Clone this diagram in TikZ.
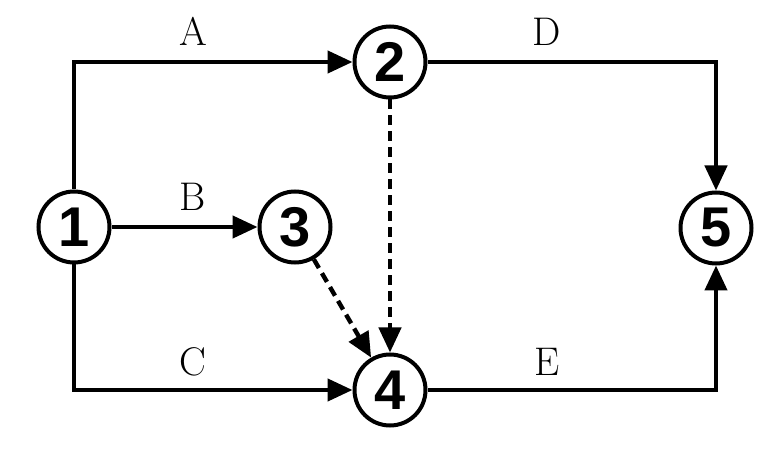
\documentclass[tikz,border=0pt]{standalone}
\usepackage{fontspec}
\newfontfamily\eventfont{Liberation Sans}
\usetikzlibrary{arrows.meta,positioning}

\tikzset{
  event/.style={circle,draw,line width=2pt,minimum size=35.5pt,inner sep=0pt,
    font=\eventfont\bfseries\fontsize{28}{28}\selectfont},
  task/.style={font=\fontsize{20}{20}\selectfont,inner sep=0pt},
  dummy/.style={dash pattern=on 5pt off 3pt}
}

\begin{document}
\begin{tikzpicture}[x=0.5pt,y=-0.5pt,line width=2.2pt,>={Triangle[length=12.5pt,width=11pt]}]
  \useasboundingbox (0,0) rectangle (782,454);
  % events
  \node[event] (e1) at (74,227) {1};
  \node[event] (e2) at (390,62) {2};
  \node[event] (e3) at (295,227) {3};
  \node[event] (e4) at (390,390) {4};
  \node[event] (e5) at (716,228) {5};
  % activities
  \draw[->] (e1) |- (e2);
  \draw[->] (e1) -- (e3);
  \draw[->] (e1) |- (e4);
  \draw[->] (e2) -| (e5);
  \draw[->] (e4) -| (e5);
  \draw[->,dummy] (e2) -- (e4);
  \draw[->,dummy] (e3) -- (e4);
  % labels
  \node[task] (la) at (193,31) {A};
  \node[task] (lb) at (193,197) {B};
  \node[task] (lc) at (193,362) {C};
  \node[task] (ld) at (547,32) {D};
  \node[task] (le) at (547,362) {E};
\end{tikzpicture}
\end{document}
